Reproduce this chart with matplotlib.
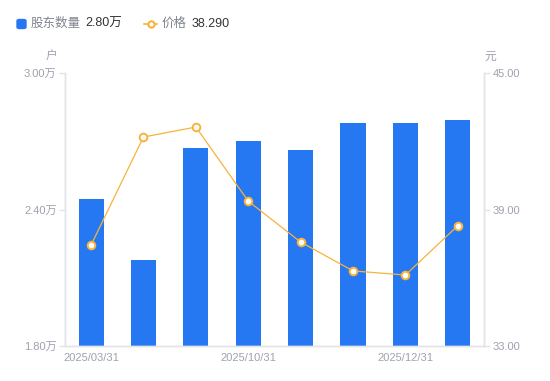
import matplotlib.pyplot as plt
from matplotlib.lines import Line2D
from matplotlib.patches import FancyBboxPatch

plt.rcParams['font.family'] = ['Liberation Sans', 'Noto Sans CJK SC', 'DejaVu Sans']

dates = ["2025/03/31", "", "", "2025/10/31", "", "", "2025/12/31", ""]
holders = [2.446, 2.178, 2.670, 2.701, 2.662, 2.780, 2.780, 2.796]   # 万户
price = [37.44, 42.19, 42.63, 39.37, 37.57, 36.30, 36.12, 38.29]

left_ticks = [1.80, 2.40, 3.00]
right_ticks = [33.00, 39.00, 45.00]

blue = '#2577F2'
orange = '#F8B33A'
axcol = '#E3E4E8'
txtcol = '#9EA2AE'

fig = plt.figure(figsize=(5.5, 3.81), dpi=100)
ax1 = fig.add_axes([0.118, 0.092, 0.762, 0.716])
ax2 = ax1.twinx()

x = list(range(len(holders)))
ax1.bar(x, holders, width=0.48, color=blue, zorder=2)
ax2.plot(x, price, color=orange, linewidth=0.9, marker='o', markersize=5.5,
         markerfacecolor='white', markeredgecolor=orange, markeredgewidth=1.4, zorder=3)

ax1.set_xlim(-0.5, len(x) - 0.5)
ax1.set_ylim(1.80, 3.00)
ax2.set_ylim(33.0, 45.0)

ax1.set_yticks(left_ticks)
ax1.set_yticklabels([f"{v:.2f}万" for v in left_ticks])
ax2.set_yticks(right_ticks)
ax2.set_yticklabels([f"{v:.2f}" for v in right_ticks])

tick_pos = [i for i, d in enumerate(dates) if d]
ax1.set_xticks(tick_pos)
ax1.set_xticklabels([dates[i] for i in tick_pos])

for a in (ax1, ax2):
    for s in a.spines.values():
        s.set_color(axcol)
        s.set_linewidth(1)
    a.spines['top'].set_visible(False)
    a.tick_params(axis='y', colors=axcol, labelcolor=txtcol, labelsize=8, length=4, width=1, pad=2)
ax1.tick_params(axis='x', length=0, labelcolor=txtcol, labelsize=8, pad=5)
ax2.tick_params(axis='x', length=0)

fig.text(57 / 550, 1 - 57 / 381, "户", color=txtcol, fontsize=8.5, ha='right', va='center')
fig.text(484 / 550, 1 - 57 / 381, "元", color=txtcol, fontsize=8.5, ha='left', va='center')

# legend row
fig.patches.append(FancyBboxPatch((17 / 550, 1 - 28.5 / 381), 9 / 550, 9 / 381,
                                  boxstyle='round,pad=0,rounding_size=0.004',
                                  transform=fig.transFigure, color=blue, figure=fig))
fig.text(31 / 550, 1 - 24 / 381, "股东数量", color='#80848F', fontsize=9, va='center')
fig.text(85 / 550, 1 - 24 / 381, f"{holders[-1]:.2f}万", color='#333333', fontsize=9, va='center')
fig.lines.append(Line2D([144 / 550, 157 / 550], [1 - 24 / 381, 1 - 24 / 381], transform=fig.transFigure,
                        color=orange, linewidth=1.2))
fig.lines.append(Line2D([150.5 / 550], [1 - 24 / 381], transform=fig.transFigure, color=orange,
                        marker='o', markersize=4.5, markerfacecolor='white', markeredgewidth=1.5))
fig.text(162 / 550, 1 - 24 / 381, "价格", color='#80848F', fontsize=9, va='center')
fig.text(192 / 550, 1 - 24 / 381, "38.290", color='#333333', fontsize=9, va='center')

plt.savefig('out.png', dpi=100)
